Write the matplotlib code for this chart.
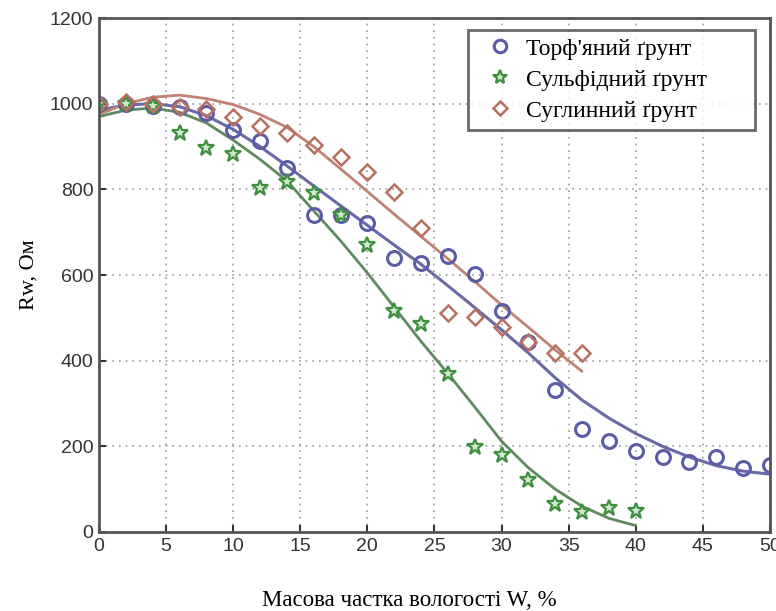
import matplotlib.pyplot as plt
import numpy as np

# Measured points
x_peat = [0, 2, 4, 6, 8, 10, 12, 14, 16, 18, 20, 22, 24, 26, 28, 30, 32, 34, 36, 38,
          40, 42, 44, 46, 48, 50]
r_peat = [1000, 1000, 995, 992, 978, 938, 912, 850, 740, 740, 722, 640, 628, 645, 603,
          517, 443, 331, 240, 212, 188, 174, 164, 175, 150, 157]

x_sulf = [0, 2, 4, 6, 8, 10, 12, 14, 16, 18, 20, 22, 24, 26, 28, 30, 32, 34, 36, 38, 40]
r_sulf = [1000, 1000, 994, 931, 896, 882, 803, 817, 791, 740, 670, 515, 485, 368, 199,
          180, 121, 65, 47, 55, 50]

x_loam = [0, 2, 4, 6, 8, 10, 12, 14, 16, 18, 20, 22, 24, 26, 28, 30, 32, 34, 36]
r_loam = [1000, 1003, 1000, 992, 988, 969, 947, 931, 903, 875, 840, 793, 709, 511, 502,
          479, 443, 417, 417]

# Fitted curves
xf_peat = [0, 2, 4, 6, 8, 10, 12, 14, 16, 18, 20, 22, 24, 26, 28, 30, 32, 34, 36, 38,
           40, 42, 44, 46, 48, 50]
rf_peat = [985, 997, 1000, 993, 972, 940, 900, 855, 808, 762, 716, 670, 625, 575, 524,
           472, 418, 360, 308, 266, 230, 200, 175, 155, 142, 135]

xf_sulf = [0, 2, 4, 6, 8, 10, 12, 14, 16, 18, 20, 22, 24, 26, 28, 30, 32, 34, 36, 38, 40]
rf_sulf = [970, 985, 990, 980, 955, 915, 870, 820, 750, 680, 605, 525, 445, 370, 292,
           212, 150, 100, 60, 32, 15]

xf_loam = [0, 2, 4, 6, 8, 10, 12, 14, 16, 18, 20, 22, 24, 26, 28, 30, 32, 34, 36]
rf_loam = [975, 1000, 1015, 1020, 1012, 998, 975, 945, 900, 848, 795, 742, 690, 638,
           585, 530, 478, 425, 375]

labels = ["Торф'яний ґрунт", "Сульфідний ґрунт", "Суглинний ґрунт"]

C_PEAT = "#5b5ba8"
C_SULF = "#3f8f3f"
C_LOAM = "#b87060"

fig = plt.figure(figsize=(7.76, 6.11), dpi=100)
ax = fig.add_axes([0.1276, 0.1293, 0.8645, 0.8412])

ax.plot(xf_peat, rf_peat, color="#6a6aa6", lw=2.2, solid_capstyle="round")
ax.plot(xf_sulf, rf_sulf, color="#5f8a5f", lw=2.0, solid_capstyle="round")
ax.plot(xf_loam, rf_loam, color="#c08272", lw=2.0, solid_capstyle="round")

ax.plot(x_peat, r_peat, "o", ls="none", mfc="none", mec=C_PEAT, mew=2.2, ms=10,
        label=labels[0])
ax.plot(x_sulf, r_sulf, "*", ls="none", mfc="#cfe8cf", mec=C_SULF, mew=1.6, ms=12,
        label=labels[1])
ax.plot(x_loam, r_loam, "D", ls="none", mfc="none", mec=C_LOAM, mew=1.8, ms=8,
        label=labels[2])

ax.set_xlim(0, 50)
ax.set_ylim(0, 1200)
ax.set_xticks(np.arange(0, 51, 5))
ax.set_yticks(np.arange(0, 1201, 200))
ax.grid(True, color="#999999", ls=(0, (1, 3)), lw=1.2)
ax.tick_params(direction="in", length=5, width=1.5, labelsize=14, colors="#333333",
               pad=4)
for lab in ax.get_xticklabels() + ax.get_yticklabels():
    lab.set_fontfamily("Liberation Sans")
for side in ["left", "right", "top", "bottom"]:
    ax.spines[side].set_color("#555555")
    ax.spines[side].set_linewidth(2)

ax.set_xlabel("Масова частка вологості W, %", fontfamily="Liberation Serif",
              fontsize=16.5)
ax.xaxis.set_label_coords(0.463, -0.113)
ax.set_ylabel("Rw, Ом", fontfamily="Liberation Serif", fontsize=16, labelpad=8)

leg = ax.legend(loc="upper left", bbox_to_anchor=(0.55, 0.792, 0.428, 0.185),
                mode="expand", fancybox=False, edgecolor="#444444",
                prop={"family": "Liberation Serif", "size": 17}, handletextpad=0.1,
                borderaxespad=0, handlelength=2.0, labelspacing=0.4,
                borderpad=0.35, markerscale=0.9)
leg.get_frame().set_linewidth(2)

fig.savefig("out.png", dpi=100)
